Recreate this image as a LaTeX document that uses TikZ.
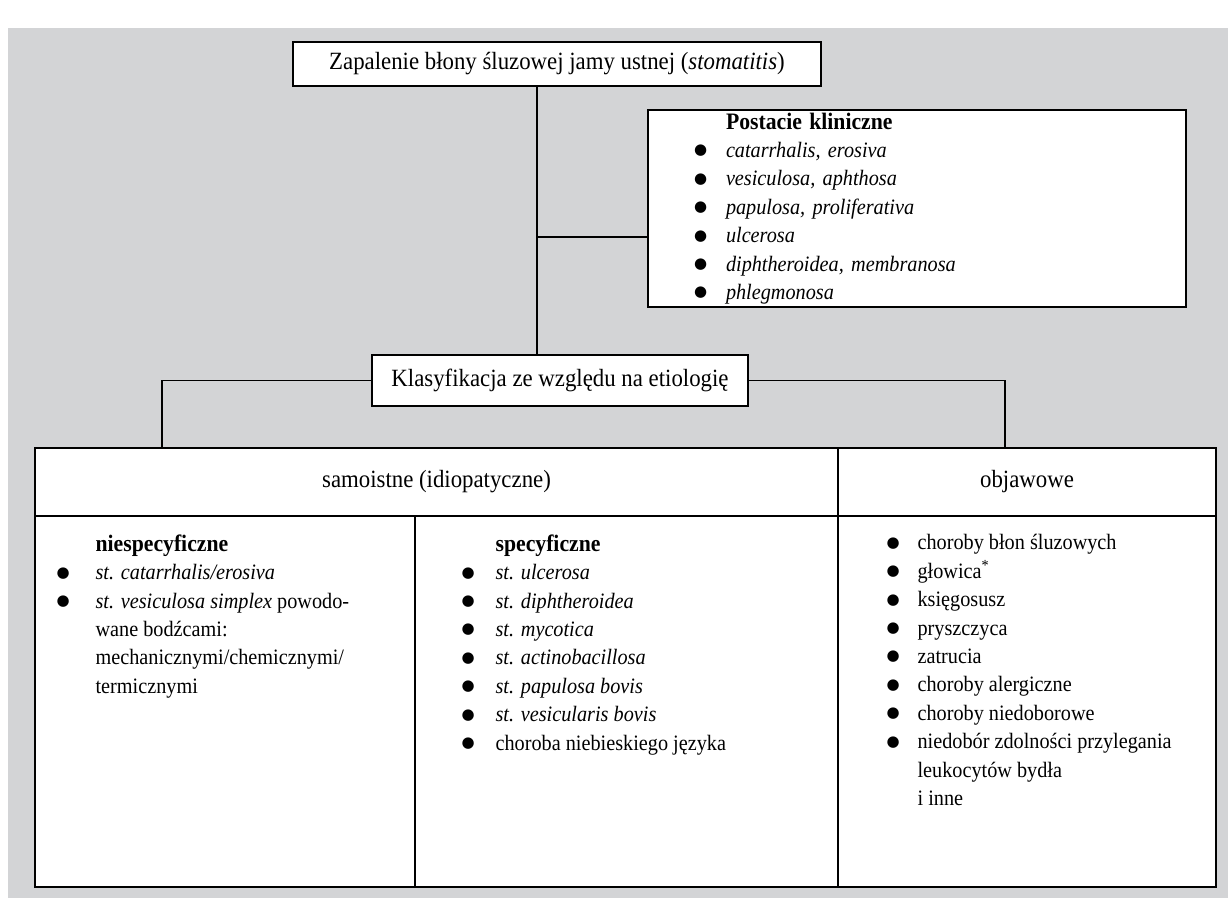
\documentclass[tikz,border=0pt]{standalone}
\usepackage{fontspec}
\setmainfont{Liberation Serif}[FakeStretch=0.92]
\newfontfamily\dotfont{DejaVu Sans}
\usetikzlibrary{positioning}
\definecolor{panelgray}{RGB}{211,212,214}
\newcommand{\blt}[1]{\makebox[#1][l]{\raisebox{1.3pt}{\dotfont\fontsize{7.5}{7.5}\selectfont ●}}}
\newcommand{\hd}[1]{{\fontsize{11.8}{14.2}\selectfont\bfseries #1}}

\begin{document}
\begin{tikzpicture}[
    x=0.5pt, y=-0.5pt,
    box/.style={
        draw,
        fill=white,
        line width=0.8pt,
        inner sep=0pt
    },
    link/.style={line width=0.7pt},
    txt/.style={font=\fontsize{11}{14.2}\selectfont},
    head/.style={font=\fontsize{12.4}{15}\selectfont},
    list/.style={txt, align=left, inner sep=0pt, anchor=north west}
]

% page and grey panel
\fill[white] (0,0) rectangle (1228,898);
\fill[panelgray] (8,28) rectangle (1228,898);

\node[box, head, minimum width=264pt, minimum height=22pt] (stoma) at (557,64)
{Zapalenie błony śluzowej jamy ustnej (\emph{stomatitis})};

\node[box, txt, minimum width=269pt, minimum height=98.5pt,
      text width=223pt, align=left] (postacie) at (917,208.5)
{\hspace*{16pt}\hd{Postacie kliniczne}\\
 \blt{16pt}\emph{catarrhalis, erosiva}\\
 \blt{16pt}\emph{vesiculosa, aphthosa}\\
 \blt{16pt}\emph{papulosa, proliferativa}\\
 \blt{16pt}\emph{ulcerosa}\\
 \blt{16pt}\emph{diphtheroidea, membranosa}\\
 \blt{16pt}\emph{phlegmonosa}};

\node[box, head, minimum width=188pt, minimum height=25.5pt] (klas) at (560,380.5)
{Klasyfikacja ze względu na etiologię};

% table
\node[box, head, minimum width=401.5pt, minimum height=34pt] (samo) at (436.5,482)
{samoistne (idiopatyczne)};
\node[box, head, minimum width=189pt, minimum height=34pt] (objaw) at (1027,482)
{objawowe};

\node[box, minimum width=190pt, minimum height=185.5pt] (niesp) at (225,701.5) {};
\node[box, minimum width=211.5pt, minimum height=185.5pt] (spec) at (626.5,701.5) {};
\node[box, minimum width=189pt, minimum height=185.5pt] (objlist) at (1027,701.5) {};

\node[list, below right=9.5pt and 11pt of niesp.north west] (niesptext)
{\hspace*{19.5pt}\hd{niespecyficzne}\\
 \blt{19.5pt}\emph{st. catarrhalis/erosiva}\\
 \blt{19.5pt}\emph{st. vesiculosa simplex} powodo-\\
 \hspace*{19.5pt}wane bodźcami:\\
 \hspace*{19.5pt}mechanicznymi/chemicznymi/\\
 \hspace*{19.5pt}termicznymi};

\node[list, below right=9.5pt and 23.5pt of spec.north west] (spectext)
{\hspace*{17pt}\hd{specyficzne}\\
 \blt{17pt}\emph{st. ulcerosa}\\
 \blt{17pt}\emph{st. diphtheroidea}\\
 \blt{17pt}\emph{st. mycotica}\\
 \blt{17pt}\emph{st. actinobacillosa}\\
 \blt{17pt}\emph{st. papulosa bovis}\\
 \blt{17pt}\emph{st. vesicularis bovis}\\
 \blt{17pt}choroba niebieskiego języka};

\node[list, below right=9.5pt and 24.5pt of objlist.north west] (objtext)
{\blt{15.5pt}choroby błon śluzowych\\
 \blt{15.5pt}głowica\textsuperscript{*}\\
 \blt{15.5pt}księgosusz\\
 \blt{15.5pt}pryszczyca\\
 \blt{15.5pt}zatrucia\\
 \blt{15.5pt}choroby alergiczne\\
 \blt{15.5pt}choroby niedoborowe\\
 \blt{15.5pt}niedobór zdolności przylegania\\
 \hspace*{15.5pt}leukocytów bydła\\
 \hspace*{15.5pt}i inne};

% connectors
\coordinate (trunk) at (537,237);
\coordinate (ldrop) at (162,448);
\coordinate (rdrop) at (1005,448);

\draw[link] (stoma.south -| trunk) -- (klas.north -| trunk);
\draw[link] (trunk) -- (trunk -| postacie.west);
\draw[link] (klas.west) -| (ldrop);
\draw[link] (klas.east) -| (rdrop);

\end{tikzpicture}
\end{document}
